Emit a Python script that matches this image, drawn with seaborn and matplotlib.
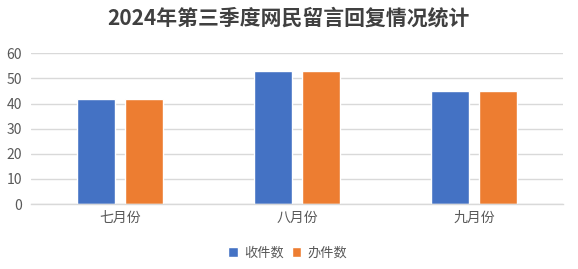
import matplotlib
matplotlib.use("Agg")
import matplotlib.pyplot as plt
import seaborn as sns
import pandas as pd

months = ["七月份", "八月份", "九月份"]
received = [42, 53, 45]
handled = [42, 53, 45]
series_names = ["收件数", "办件数"]
yticks = [0, 10, 20, 30, 40, 50, 60]

sns.set_theme(style="white")
plt.rcParams['font.family'] = ['Noto Sans CJK SC', 'DejaVu Sans']

df = pd.DataFrame({
    "month": months * 2,
    "value": received + handled,
    "series": [series_names[0]] * 3 + [series_names[1]] * 3,
})

fig = plt.figure(figsize=(5.78, 2.69), dpi=100)
ax = fig.add_axes([31/578, 1-204/269, (563-31)/578, (204-53.3)/269])

sns.barplot(data=df, x="month", y="value", hue="series",
            palette=["#4472C4", "#ED7D31"], width=0.5414, gap=0.208,
            ax=ax, legend=True, saturation=1)

ax.set_ylim(0, 60)
ax.set_yticks(yticks)
ax.set_xlim(-0.5, 2.5)
ax.grid(axis="y", color="#D9D9D9", linewidth=1)
ax.set_axisbelow(True)
for s in ["top", "right", "left"]:
    ax.spines[s].set_visible(False)
ax.spines["bottom"].set_color("#D9D9D9")
ax.spines["bottom"].set_linewidth(1)
ax.tick_params(axis="both", length=0, colors="#595959")
ax.tick_params(axis="y", labelsize=10, pad=6.5)
ax.tick_params(axis="x", labelsize=10, pad=5)
ax.set_xlabel("")
ax.set_ylabel("")

leg = ax.legend(loc="center", bbox_to_anchor=(288/578, 1-253/269),
                bbox_transform=fig.transFigure, ncol=2, frameon=False,
                fontsize=9.5, handlelength=0.7, handleheight=0.7,
                handletextpad=0.5, columnspacing=0.6, labelcolor="#595959")

fig.text(288/578, 1-18.5/269, "2024年第三季度网民留言回复情况统计",
         ha="center", va="center", fontsize=15, fontweight="bold", color="#404040")

fig.savefig("out.png", dpi=100, facecolor="white")
